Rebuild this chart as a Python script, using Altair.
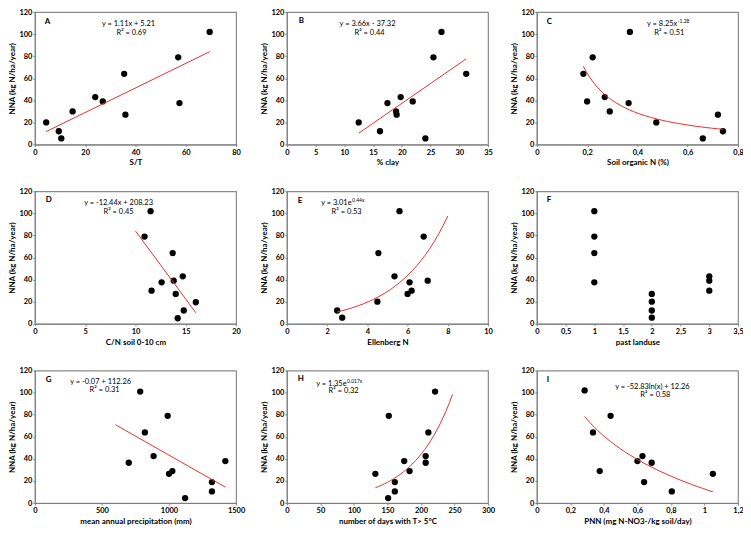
import altair as alt
import pandas as pd

# NNA (kg N/ha/year) values per panel
nna_1 = [102, 79, 64, 43, 39, 37.5, 30, 27, 20, 12, 5.5]
nna_D = [102, 79, 64, 43, 39, 37.5, 30, 27, 19.5, 12, 5]
nna_2 = [101, 79, 64, 42.5, 38, 36.5, 29, 26.5, 19, 10.5, 4.5]
nna_I = [102, 79, 64, 42.5, 38, 36.5, 29, 26.5, 19, 10.5]

st_ratio = [69.5, 57, 35.5, 24, 27, 57.5, 15, 36, 4.5, 9.5, 10.5]
clay = [26.9, 25.5, 31.2, 19.8, 21.9, 17.5, 19.0, 19.1, 12.5, 16.2, 24.1]
soil_n = [0.37, 0.222, 0.185, 0.27, 0.2, 0.365, 0.29, 0.72, 0.475, 0.74, 0.66]
cn_soil = [11.5, 10.9, 13.7, 14.7, 13.8, 12.6, 11.6, 14.0, 16.0, 14.8, 14.2]
ellenberg = [5.6, 6.8, 4.55, 5.35, 7.0, 6.1, 6.2, 6.0, 4.5, 2.5, 2.75]
landuse = [1, 1, 1, 3, 3, 1, 3, 2, 2, 2, 2]
precip = [785, 990, 820, 885, 1420, 700, 1025, 1000, 1320, 1320, 1120]
days_t5 = [221, 152, 211, 207, 175, 207, 183, 132, 161, 161, 151]
pnn = [0.285, 0.44, 0.335, 0.63, 0.6, 0.685, 0.375, 1.05, 0.64, 0.805]

y_ticks = [0, 20, 40, 60, 80, 100, 120]

FONT = "Lato"
RED = "#e3302b"
W, H = 202, 133
LABEL_EXPR = "replace(format(datum.value, '~g'), '.', ',')"


def trend(base, method, extent):
    if method == "exp":
        # Excel-style exponential trendline: least squares on ln(y)
        chain = (base.transform_calculate(ly="log(datum.y)")
                 .transform_regression("x", "ly", method="poly", order=1, extent=extent)
                 .transform_calculate(y="exp(datum.ly)"))
    elif method == "pow":
        # Excel-style power trendline: least squares of ln(y) on ln(x)
        chain = (base.transform_calculate(ly="log(datum.y)")
                 .transform_regression("x", "ly", method="log", extent=extent)
                 .transform_calculate(y="exp(datum.ly)"))
    else:
        chain = base.transform_regression("x", "y", method=method, extent=extent)
    return chain.mark_line(color=RED, strokeWidth=1, clip=True).encode(x="x:Q", y="y:Q")


def txt(s, x, y, size=7.5, align="center", weight="normal"):
    return (alt.Chart(pd.DataFrame({"t": [s]}))
            .mark_text(font=FONT, fontSize=size, align=align, baseline="middle", fontWeight=weight)
            .encode(text="t:N", x=alt.value(x), y=alt.value(y)))


def panel(x, y, xtitle, xdomain, xticks, letter, letter_pos, method=None,
          extent=None, eq=None, eq_pos=None, r2=None, r2_pos=None, exp=None):
    df = pd.DataFrame({"x": x, "y": y})
    base = alt.Chart(df)
    xenc = alt.X("x:Q", scale=alt.Scale(domain=xdomain, nice=False, zero=False),
                 axis=alt.Axis(values=xticks, tickCount=len(xticks), title=xtitle,
                               labelExpr=LABEL_EXPR, labelOverlap=False, labelFlush=False))
    yenc = alt.Y("y:Q", scale=alt.Scale(domain=[0, 120], nice=False),
                 axis=alt.Axis(values=y_ticks, tickCount=len(y_ticks), title="NNA (kg N/ha/year)",
                               labelOverlap=False, labelFlush=False, labelExpr=LABEL_EXPR))
    layers = [base.mark_circle(size=40, color="black", opacity=1).encode(x=xenc, y=yenc)]
    if method:
        layers.append(trend(base, method, extent))
    layers.append(txt(letter, letter_pos[0], letter_pos[1], size=8, align="left", weight="bold"))
    if eq is not None:
        if exp is None:
            layers.append(txt(eq, eq_pos[0], eq_pos[1]))
        else:
            layers.append(txt(eq, eq_pos[0], eq_pos[1], align="right"))
            layers.append(txt(exp, eq_pos[0] + 0.5, eq_pos[1] - 3, size=5, align="left"))
        layers.append(txt(r2, r2_pos[0], r2_pos[1]))
    return alt.layer(*layers).properties(width=W, height=H)


pA = panel(st_ratio, nna_1, "S/T", [0, 80], [0, 20, 40, 60, 80], "A", (10, 10),
           "linear", [4.5, 69.5], "y = 1.11x + 5.21", (94, 12), "R² = 0.69", (97, 21))
pB = panel(clay, nna_1, "% clay", [0, 35], [0, 5, 10, 15, 20, 25, 30, 35], "B", (12, 9),
           "linear", [12.5, 31.2], "y = 3.66x - 37.32", (81, 12), "R² = 0.44", (83, 21))
pC = panel(soil_n, nna_1, "Soil organic N (%)", [0, 0.8], [0, 0.2, 0.4, 0.6, 0.8], "C", (10, 10),
           "pow", [0.185, 0.74], "y = 8.25x", (141, 12), "R² = 0.51", (133, 21), exp="-1.28")
pD = panel(cn_soil, nna_D, "C/N soil 0-10 cm", [0, 20], [0, 5, 10, 15, 20], "D", (11, 9),
           "linear", [10, 16], "y = -12.44x + 208.23", (84, 12), "R² = 0.45", (84, 21))
pE = panel(ellenberg, nna_1, "Ellenberg N", [0, 10], [0, 2, 4, 6, 8, 10], "E", (11, 10),
           "exp", [2.5, 8], "y = 3.01e", (65, 12), "R² = 0.53", (60, 21), exp="0.44x")
pF = panel(landuse, nna_1, "past landuse", [0, 3.5], [0, 0.5, 1, 1.5, 2, 2.5, 3, 3.5], "F", (10, 9))
pG = panel(precip, nna_2, "mean annual precipitation (mm)", [0, 1500], [0, 500, 1000, 1500], "G", (11, 9),
           "linear", [600, 1420], "y = -0.07 + 112.26", (66, 11), "R² = 0.31", (70, 20))
pH = panel(days_t5, nna_2, "number of days with T> 5°C", [0, 300], [0, 50, 100, 150, 200, 250, 300], "H", (11, 8),
           "exp", [132, 247], "y = 1.35e", (60, 13), "R² = 0.32", (57, 21), exp="0.017x")
pI = panel(pnn, nna_I, "PNN (mg N-NO3-/kg soil/day)", [0, 1.2], [0, 0.2, 0.4, 0.6, 0.8, 1, 1.2], "I", (10, 9),
           "log", [0.285, 1.05], "y = -52.83ln(x) + 12.26", (116, 16), "R² = 0.58", (119, 25))

chart = (
    alt.concat(pA, pB, pC, pD, pE, pF, pG, pH, pI, columns=3, spacing={"row": 18, "column": 14})
    .properties(padding={"left": 0, "top": -2, "right": -1, "bottom": -2})
    .configure_view(stroke="#8a8a8a", strokeWidth=1.2)
    .configure_axis(
        grid=False, domainColor="#808080", tickColor="#808080", tickSize=2,
        labelFont=FONT, labelFontSize=7.5, labelFontWeight="bold", labelColor="black",
        titleFont=FONT, titleFontSize=8, titleFontWeight="bold", titleColor="black",
        labelPadding=2,
    )
    .configure_axisX(titlePadding=3)
    .configure_axisY(titlePadding=2, labelPadding=1)
)

chart.save("out.html", embed_options={"renderer": "svg", "actions": False})
